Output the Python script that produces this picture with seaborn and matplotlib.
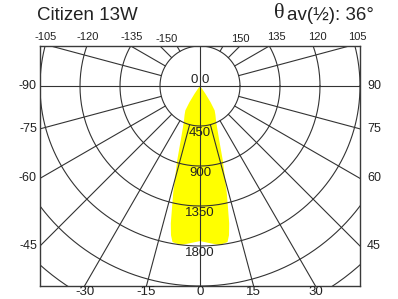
import numpy as np
import pandas as pd
import seaborn as sns
import matplotlib.pyplot as plt

# candela curve (half, symmetric), angle from nadir in degrees
angles = [0, 4, 7, 10, 11, 12, 14, 17, 19.5, 22.5, 25, 28, 31, 33, 35, 37, 40]
candela = [1745, 1775, 1803, 1783, 1710, 1580, 1250, 880, 650, 500, 425, 370, 320, 220, 110, 40, 0]

ring_labels = ["0 0", "450", "900", "1350", "1800"]
ring_values = [0, 450, 900, 1350, 1800]
side_angles = [90, 75, 60, 45]
bottom_angles = [-30, -15, 0, 15, 30]
top_labels = ["-105", "-120", "-135", "-150", "150", "135", "120", "105"]
top_label_x = [-1733, -1260, -765, -371, 450, 855, 1316, 1766]

title = "Citizen 13W"
beam = "av(½): 36°"

sns.set_theme(style="white")
plt.rcParams['font.family'] = ['Liberation Sans', 'DejaVu Sans']
grid_col = '#333333'
txt_col = '#222222'

fig = plt.figure(figsize=(3.98, 2.99), dpi=100)
ax = fig.add_axes([40/398, 13/299, 320/398, 240/299])

# yellow light distribution
th = np.radians(np.array(angles))
cd = np.array(candela)
th_full = np.concatenate([-th[::-1], th[1:]])
cd_full = np.concatenate([cd[::-1], cd[1:]])
ax.fill(cd_full * np.sin(th_full), cd_full * np.cos(th_full), color='#FFFF00', lw=0, zorder=1)

# rings
t = np.linspace(0, 2 * np.pi, 361)
rings = pd.concat([pd.DataFrame({'x': r * np.cos(t), 'y': r * np.sin(t), 'ring': r})
                   for r in range(450, 2701, 450)])
sns.lineplot(data=rings, x='x', y='y', units='ring', estimator=None, sort=False,
             color=grid_col, lw=0.8, ax=ax, zorder=2)

# spokes
rows = []
for a in range(-165, 181, 15):
    if a in (-90, 180):
        continue
    r0 = -4000 if a in (0, 90) else 450
    ar = np.radians(a)
    for r in (r0, 4000):
        rows.append({'x': r * np.sin(ar), 'y': r * np.cos(ar), 'spoke': a})
spokes = pd.DataFrame(rows)
sns.lineplot(data=spokes, x='x', y='y', units='spoke', estimator=None, sort=False,
             color=grid_col, lw=0.8, ax=ax, zorder=2)

ax.set_xlim(-1800, 1800)
ax.set_ylim(2250, -450)
ax.set_xticks([])
ax.set_yticks([])
ax.set_xlabel('')
ax.set_ylabel('')
for s in ax.spines.values():
    s.set_color('#3a3a3a')
    s.set_linewidth(1)

# ring labels
for lab, v in zip(ring_labels, ring_values):
    y = -68 if v == 0 else v + 80
    ax.text(0, y, lab, ha='center', va='center', fontsize=9.5, color=txt_col, zorder=3)

# side labels
for a in side_angles:
    y = 1800 / np.tan(np.radians(a)) if a != 90 else 0
    ax.text(-1834, y, f"-{a}", ha='right', va='center', fontsize=9, color=txt_col, clip_on=False)
    ax.text(1879, y, f"{a}", ha='left', va='center', fontsize=9, color=txt_col, clip_on=False)

# bottom labels
for a in bottom_angles:
    ax.text(2250 * np.tan(np.radians(a)), 2318, f"{a}", ha='center', va='center',
            fontsize=9.5, color=txt_col, clip_on=False)

# top labels
for lab, x in zip(top_labels, top_label_x):
    y = -529 if lab in ("-150", "150") else -551
    ax.text(x, y, lab, ha='center', va='center', fontsize=8, color=txt_col, clip_on=False)

fig.text(37/398, 1 - 16/299, title, ha='left', va='center', fontsize=13.5, color=txt_col)
fig.text(285/398, 1 - 14/299, "θ", ha='right', va='center', fontsize=16, color=txt_col,
         family=['Liberation Serif', 'DejaVu Serif'])
fig.text(287/398, 1 - 15/299, beam, ha='left', va='center', fontsize=13.5, color=txt_col)

fig.savefig('out.png', dpi=100)
